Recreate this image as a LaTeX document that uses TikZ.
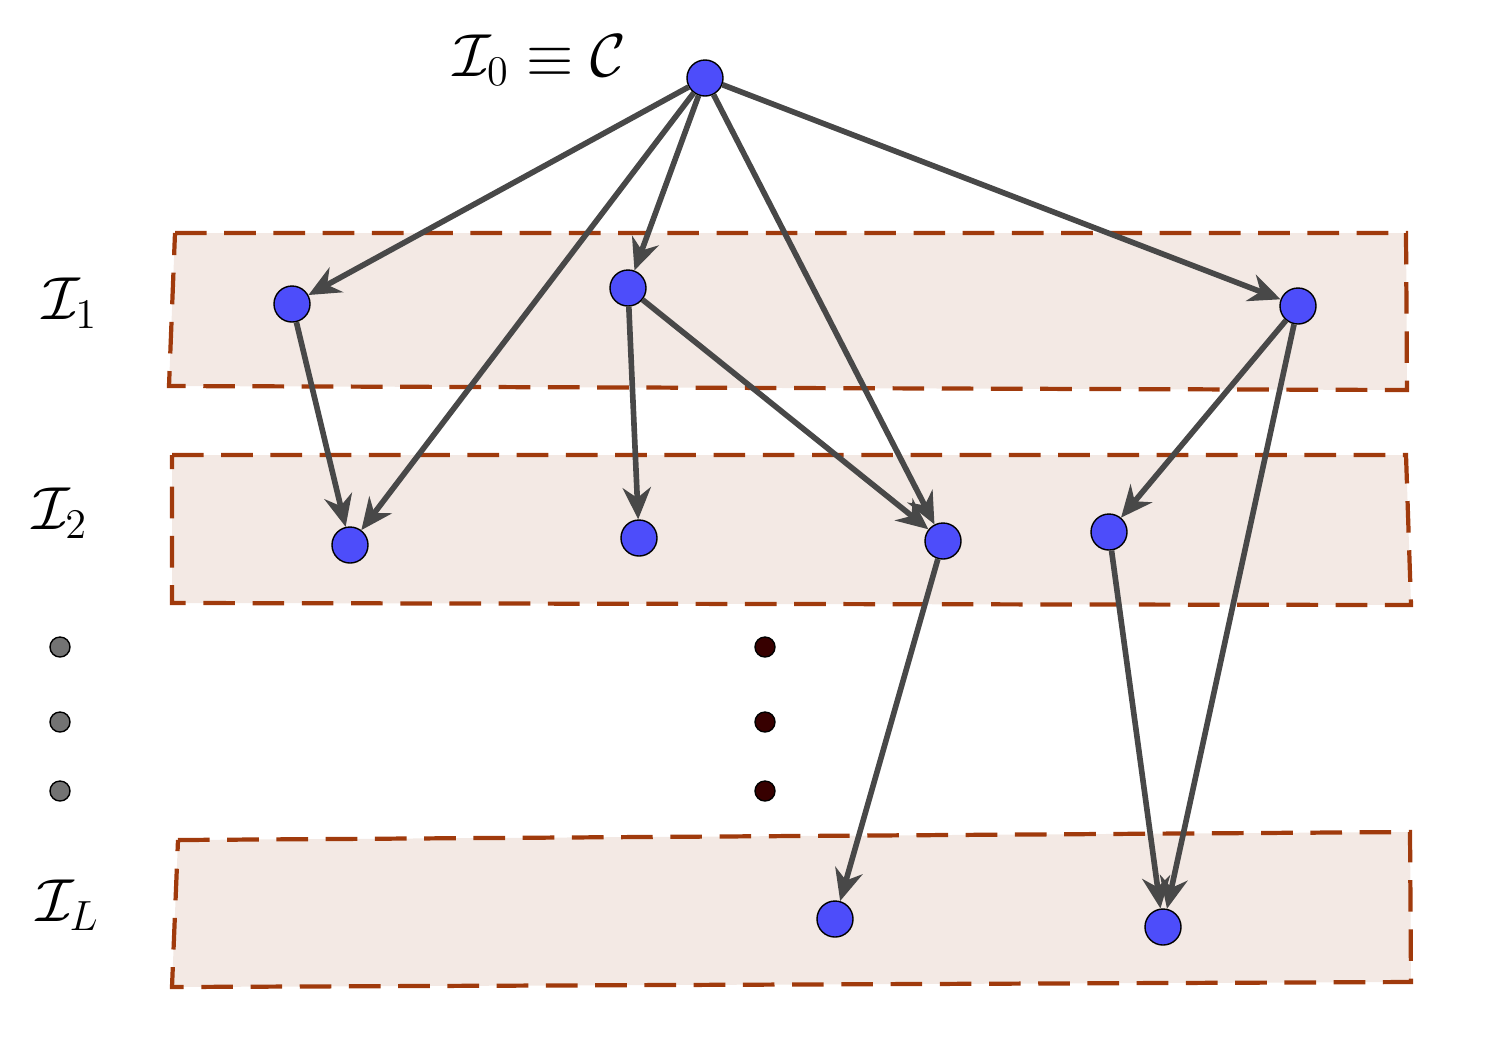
\documentclass[tikz,border=0pt]{standalone}
\usepackage{amsmath}
\definecolor{myband}{RGB}{243,233,228}
\definecolor{myborder}{RGB}{160,58,12}
\definecolor{myblue}{RGB}{77,77,250}
\definecolor{myedge}{RGB}{72,72,72}
\definecolor{mydark}{RGB}{55,0,0}
\usetikzlibrary{arrows.meta,positioning}

\begin{document}
\begin{tikzpicture}[
  x=0.01cm, y=-0.01cm,
  vert/.style={
    circle,
    draw=black,
    thin,
    fill=myblue,
    minimum size=0.36cm,
    inner sep=0pt
    },
  dotgray/.style={circle, draw=black, thin, fill=gray!110, minimum size=0.2cm, inner sep=0pt},
  dotdark/.style={circle, draw=black, thin, fill=mydark, minimum size=0.2cm, inner sep=0pt},
  band/.style={
    draw=myborder,
    fill=myband,
    very thick,
    dash pattern=on 9pt off 5pt
    },
  link/.style={
    draw=myedge,
    line width=1.6pt,
    -{Stealth[length=9pt,width=8pt]}
    },
  lab/.style={font=\LARGE}
]
\useasboundingbox (0,0) rectangle (1494,1038);

\draw[band] (175,233) -- (1406,233) -- (1407,390) -- (169,386) -- cycle;
\draw[band] (172,455) -- (1406,455) -- (1411,605) -- (172,603) -- cycle;
\draw[band] (178,840) -- (1410,832) -- (1411,982) -- (172,987) -- cycle;

\node[lab] (l0) at (540,60) {$\mathcal{I}_0 \equiv \mathcal{C}$};
\node[lab] (l1) at (70,303) {$\mathcal{I}_1$};
\node[lab] (l2) at (60,513) {$\mathcal{I}_2$};
\node[lab] (lL) at (68,905) {$\mathcal{I}_L$};

\node[vert] (top) at (705,78) {};
\node[vert] (n11) at (292,304) {};
\node[vert] (n12) at (628,288) {};
\node[vert] (n13) at (1298,306) {};
\node[vert] (n21) at (350,545) {};
\node[vert] (n22) at (639,538) {};
\node[vert] (n23) at (943,541) {};
\node[vert] (n24) at (1109,532) {};
\node[vert] (nL1) at (835,919) {};
\node[vert] (nL2) at (1163,927) {};

\foreach \Fila [count=\Filai from 1] in {647,722,791} {
  \node[dotgray] (g\Filai) at (60,\Fila) {};
  \node[dotdark] (d\Filai) at (765,\Fila) {};
}

\draw[link] (top) -- (n11);
\draw[link] (top) -- (n21);
\draw[link] (top) -- (n12);
\draw[link] (top) -- (n23);
\draw[link] (top) -- (n13);
\draw[link] (n11) -- (n21);
\draw[link] (n12) -- (n22);
\draw[link] (n12) -- (n23);
\draw[link] (n13) -- (n24);
\draw[link] (n13) -- (nL2);
\draw[link] (n23) -- (nL1);
\draw[link] (n24) -- (nL2);

\end{tikzpicture}
\end{document}
